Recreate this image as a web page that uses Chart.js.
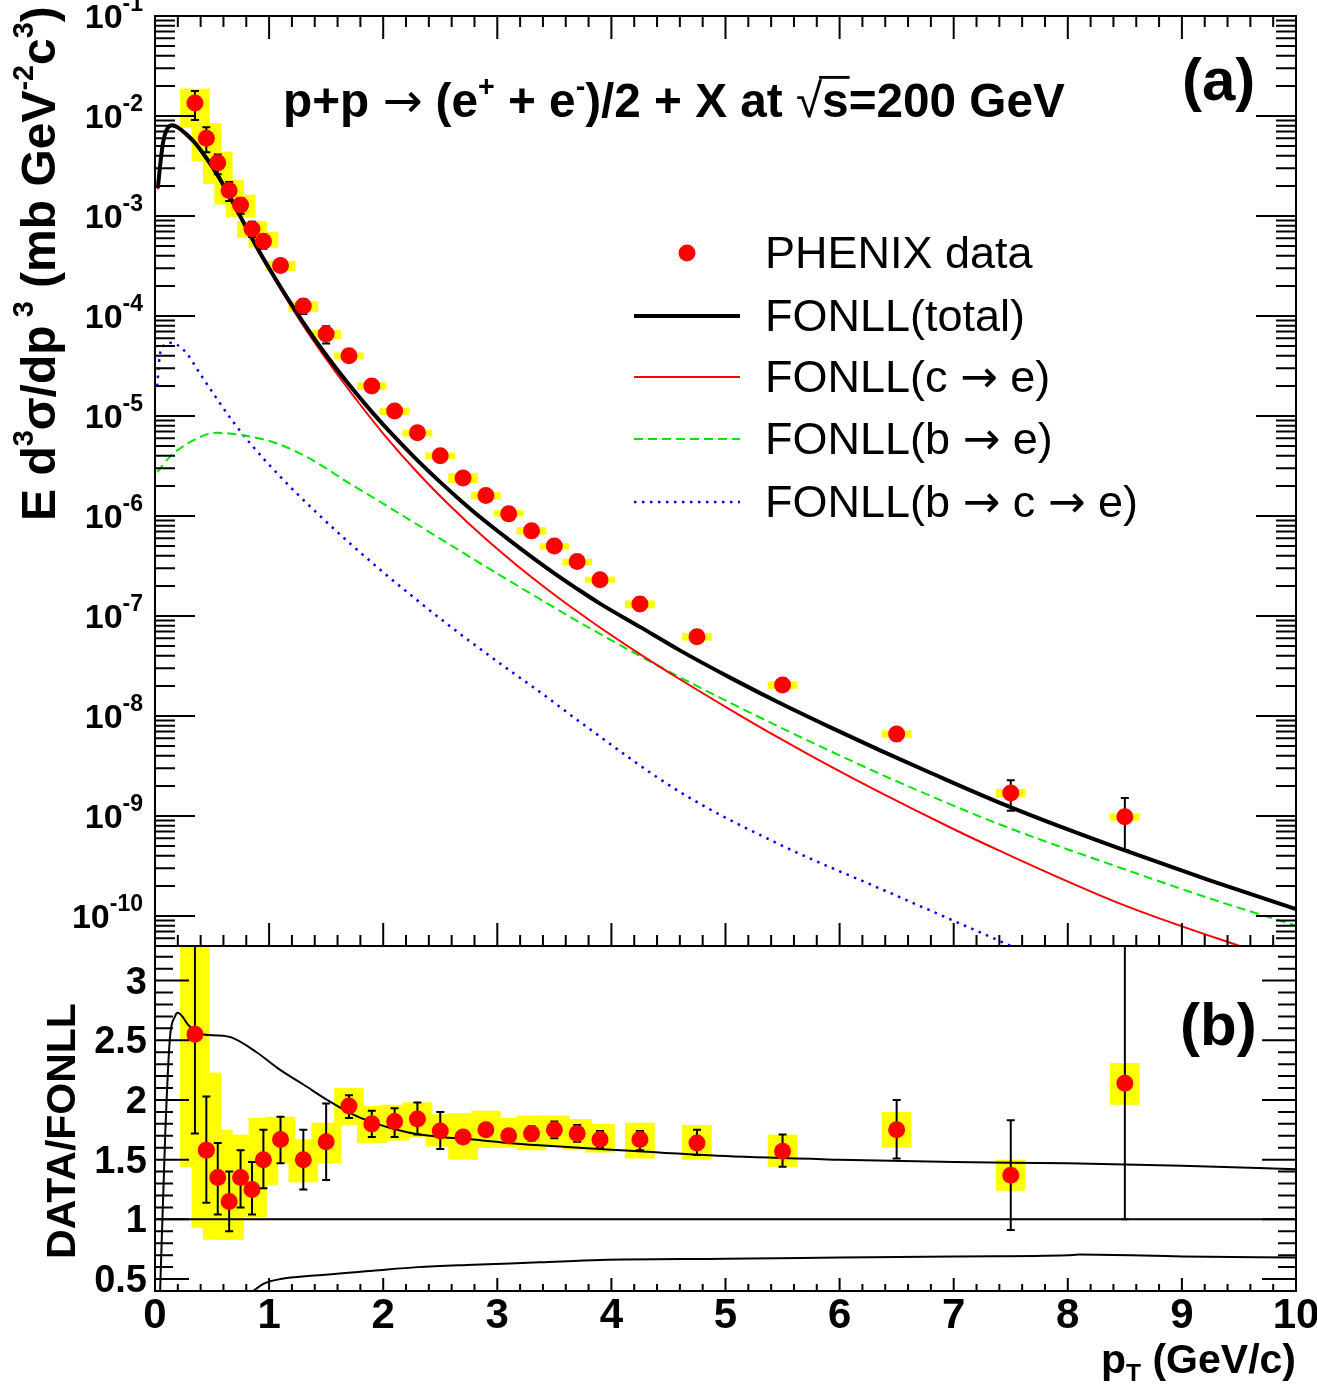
<!DOCTYPE html>
<html>
<head>
<meta charset="utf-8">
<title>p+p -> (e+ + e-)/2 + X, PHENIX vs FONLL</title>
<script src="https://cdn.jsdelivr.net/npm/chart.js"></script>
<style>
  html, body { margin: 0; padding: 0; background: #fff; }
  #wrap { position: relative; width: 1317px; height: 1384px; overflow: hidden; }
  #wrap canvas { position: absolute; left: 0; }
  #spectrum { top: 0; }
  #ratio { top: 930px; }
</style>
</head>
<body>
<div id="wrap">
  <canvas id="spectrum" width="1317" height="960"></canvas>
  <canvas id="ratio" width="1317" height="454"></canvas>
</div>
<script>
// ---- values ----
const ptBins = [0.35, 0.45, 0.55, 0.65, 0.75, 0.85, 0.95, 1.1, 1.3, 1.5, 1.7, 1.9, 2.1, 2.3,
  2.5, 2.7, 2.9, 3.1, 3.3, 3.5, 3.7, 3.9, 4.25, 4.75, 5.5, 6.5, 7.5, 8.5];
const spectrum = [1.35e-2, 6.0e-3, 3.4e-3, 1.8e-3, 1.29e-3, 7.4e-4, 5.6e-4, 3.2e-4, 1.26e-4, 6.6e-5,
  4.0e-5, 2.0e-5, 1.12e-5, 6.8e-6, 4.0e-6, 2.4e-6, 1.6e-6, 1.05e-6, 7.1e-7, 5.0e-7, 3.5e-7, 2.3e-7,
  1.32e-7, 6.2e-8, 2.04e-8, 6.6e-9, 1.7e-9, 9.8e-10];

// data / FONLL with statistical (bars) and systematic (boxes) ranges
const ratio  = [2.55, 1.58, 1.35, 1.15, 1.35, 1.25, 1.50, 1.67, 1.50, 1.65, 1.95, 1.80, 1.82, 1.84,
  1.74, 1.69, 1.75, 1.70, 1.72, 1.75, 1.72, 1.67, 1.67, 1.64, 1.57, 1.75, 1.37, 2.14];
const statLo = [1.72, 1.14, 1.04, 0.90, 1.10, 1.04, 1.26, 1.47, 1.25, 1.33, 1.85, 1.69, 1.69, 1.71,
  1.59, 1.64, 1.70, 1.65, 1.66, 1.68, 1.65, 1.60, 1.58, 1.54, 1.44, 1.51, 0.91, 1.00];
const statHi = [3.35, 2.03, 1.64, 1.40, 1.58, 1.48, 1.75, 1.86, 1.75, 1.97, 2.04, 1.91, 1.93, 1.98,
  1.90, 1.74, 1.80, 1.75, 1.78, 1.82, 1.79, 1.74, 1.74, 1.75, 1.71, 2.00, 1.83, 3.30];
const sysLo  = [1.44, 0.93, 0.83, 0.83, 1.02, 1.02, 1.29, 1.47, 1.31, 1.47, 1.79, 1.64, 1.66, 1.69,
  1.61, 1.50, 1.60, 1.60, 1.58, 1.61, 1.58, 1.56, 1.51, 1.50, 1.44, 1.60, 1.24, 1.96];
const sysHi  = [3.55, 2.23, 1.75, 1.46, 1.71, 1.50, 1.85, 1.86, 1.67, 1.81, 2.10, 1.95, 1.96, 1.98,
  1.88, 1.89, 1.91, 1.85, 1.87, 1.87, 1.84, 1.80, 1.81, 1.79, 1.71, 1.90, 1.50, 2.31];

// FONLL curves
const totPt  = [0.025, 0.045, 0.07, 0.1, 0.15, 0.2, 0.28, 0.35, 0.45, 0.55, 0.65, 0.75, 0.85, 0.95,
  1.1, 1.3, 1.5, 1.7, 1.9, 2.1, 2.3, 2.5, 2.7, 2.9, 3.1, 3.3, 3.5, 3.7, 3.9, 4.25, 4.6, 5.04, 5.48,
  5.92, 6.35, 6.79, 7.4, 8.0, 8.5, 9.25, 10];
const totVal = [1.9e-3, 3.2e-3, 5.4e-3, 7.2e-3, 8.1e-3, 7.7e-3, 6.5e-3, 5.4e-3, 3.8e-3, 2.55e-3,
  1.6e-3, 9.8e-4, 6.0e-4, 3.75e-4, 1.95e-4, 8.6e-5, 4.07e-5, 2.06e-5, 1.10e-5, 6.17e-6, 3.6e-6,
  2.18e-6, 1.36e-6, 8.75e-7, 5.8e-7, 3.9e-7, 2.67e-7, 1.87e-7, 1.33e-7, 7.78e-8, 4.53e-8, 2.42e-8,
  1.34e-8, 7.69e-9, 4.55e-9, 2.72e-9, 1.36e-9, 7.33e-10, 4.52e-10, 2.26e-10, 1.17e-10];

const cePt  = [0.025, 0.045, 0.07, 0.1, 0.15, 0.2, 0.28, 0.35, 0.45, 0.55, 0.65, 0.75, 0.85, 0.95,
  1.1, 1.3, 1.5, 1.7, 2.0, 2.3, 2.59, 2.88, 3.17, 3.46, 3.72, 3.9, 4.25, 4.6, 5.04, 5.48, 5.92,
  6.35, 6.97, 7.4, 8.48, 9.51, 10];
const ceVal = [1.85e-3, 3.1e-3, 5.25e-3, 7.0e-3, 7.9e-3, 7.5e-3, 6.3e-3, 5.25e-3, 3.7e-3, 2.48e-3,
  1.55e-3, 9.5e-4, 5.8e-4, 3.6e-4, 1.86e-4, 8.0e-5, 3.72e-5, 1.82e-5, 6.68e-6, 2.72e-6, 1.25e-6,
  6.15e-7, 3.22e-7, 1.77e-7, 1.07e-7, 7.67e-8, 4.16e-8, 2.33e-8, 1.16e-8, 5.93e-9, 3.13e-9, 1.73e-9,
  7.67e-10, 4.5e-10, 1.30e-10, 5.0e-11, 3.3e-11];

const bePt  = [0.02, 0.13, 0.31, 0.54, 0.74, 1.03, 1.33, 1.71, 2.0, 2.3, 2.59, 2.88, 3.17, 3.46,
  3.72, 3.9, 4.25, 4.6, 5.04, 5.48, 5.92, 6.35, 6.79, 7.4, 8.48, 9.25, 10];
const beVal = [2.75e-6, 3.9e-6, 5.5e-6, 6.8e-6, 6.5e-6, 5.5e-6, 3.9e-6, 2.1e-6, 1.33e-6, 8.18e-7,
  5.13e-7, 3.21e-7, 2.03e-7, 1.29e-7, 8.67e-8, 6.62e-8, 3.98e-8, 2.44e-8, 1.36e-8, 7.69e-9, 4.45e-9,
  2.65e-9, 1.6e-9, 8.26e-10, 2.98e-10, 1.49e-10, 8.0e-11];

const bcePt  = [0.02, 0.04, 0.08, 0.13, 0.2, 0.28, 0.39, 0.54, 0.68, 0.83, 1.12, 1.42, 1.71, 2.0,
  2.3, 2.59, 2.88, 3.17, 3.37, 3.72, 4.6, 5.48, 6.35, 6.97, 7.42, 7.6];
const bceVal = [2.0e-5, 3.9e-5, 5.1e-5, 5.4e-5, 5.1e-5, 4.2e-5, 2.7e-5, 1.5e-5, 8.9e-6, 5.4e-6,
  2.33e-6, 1.07e-6, 5.3e-7, 2.74e-7, 1.43e-7, 7.83e-8, 4.42e-8, 2.54e-8, 1.75e-8, 8.79e-9, 1.74e-9,
  5.15e-10, 1.89e-10, 9.27e-11, 5.52e-11, 4.47e-11];

// FONLL uncertainty band / central, lower panel
const bandUpPt  = [0.045, 0.09, 0.13, 0.175, 0.2, 0.3, 0.41, 0.55, 0.68, 0.89, 1.1, 1.3, 1.51, 1.71,
  1.91, 2.21, 2.5, 2.79, 3.09, 3.37, 3.9, 5, 6, 7, 8, 9, 10];
const bandUpVal = [0.40, 1.72, 2.51, 2.70, 2.73, 2.62, 2.55, 2.54, 2.52, 2.40, 2.25, 2.13, 2.00, 1.89,
  1.81, 1.73, 1.69, 1.67, 1.64, 1.62, 1.59, 1.53, 1.50, 1.48, 1.47, 1.45, 1.42];
const bandLoPt  = [0.86, 0.95, 1.1, 1.4, 1.91, 2.3, 2.79, 3.37, 3.9, 5, 6, 7, 8, 8.1, 9, 10];
const bandLoVal = [0.40, 0.46, 0.50, 0.53, 0.57, 0.60, 0.62, 0.64, 0.66, 0.67, 0.68, 0.69, 0.70,
  0.705, 0.69, 0.68];
const unityPt  = [0, 10];
const unityVal = [1, 1];

// tick labels
const decadeExps = [-1, -2, -3, -4, -5, -6, -7, -8, -9, -10];
const ptTicks = [0, 1, 2, 3, 4, 5, 6, 7, 8, 9, 10];
const ratioTicks = [0.5, 1, 1.5, 2, 2.5, 3];

// top panel error ranges carry the same relative size as in the ratio
const specStatLo = spectrum.map((v, i) => v * statLo[i] / ratio[i]);
const specStatHi = spectrum.map((v, i) => v * statHi[i] / ratio[i]);
const specSysLo = spectrum.map((v, i) => v * sysLo[i] / ratio[i]);
const specSysHi = spectrum.map((v, i) => v * sysHi[i] / ratio[i]);

const FONT = '"Liberation Sans", Arial, Helvetica, sans-serif';
const SYM = '"DejaVu Sans", sans-serif';
const BOX_HALF = 0.13;
const ARROW = { t: '→', w: 'normal', f: SYM };

function xy(xs, ys) {
    return xs.map((x, i) => ({ x: x, y: ys[i] }));
}

function partFont(p, size, weight) {
    const s = p.s || ((p.sup || p.sub) ? size * 0.6 : size);
    return (p.w || weight) + ' ' + s + 'px ' + (p.f || FONT);
}

function partsWidth(ctx, parts, size, weight) {
    let w = 0;
    for (const p of parts) {
        ctx.font = partFont(p, size, weight);
        w += ctx.measureText(p.t).width;
    }
    return w;
}

// draws a run of text pieces with super/subscripts
function drawParts(ctx, parts, x, y, size, weight, align) {
    const w = partsWidth(ctx, parts, size, weight);
    let cx = align === 'right' ? x - w : align === 'center' ? x - w / 2 : x;
    ctx.textAlign = 'left';
    ctx.textBaseline = 'alphabetic';
    for (const p of parts) {
        ctx.font = partFont(p, size, weight);
        let dy = 0;
        if (p.dy !== undefined) dy = p.dy;
        else if (p.sup) dy = -size * 0.45;
        else if (p.sub) dy = size * 0.2;
        const tw = ctx.measureText(p.t).width;
        ctx.fillText(p.t, cx, y + dy);
        if (p.over) {
            ctx.fillRect(cx - 3, y - size * 0.86, tw + 4, Math.max(2, size * 0.06));
        }
        cx += tw;
    }
    return w;
}

function clipArea(chart) {
    const a = chart.chartArea;
    chart.ctx.beginPath();
    chart.ctx.rect(a.left, a.top, a.right - a.left, a.bottom - a.top);
    chart.ctx.clip();
}

function sysBoxes(chart, xs, lo, hi) {
    const { ctx, scales: { x, y } } = chart;
    ctx.save();
    clipArea(chart);
    ctx.fillStyle = '#ffff00';
    xs.forEach((v, i) => {
        const x0 = x.getPixelForValue(v - BOX_HALF);
        const x1 = x.getPixelForValue(v + BOX_HALF);
        const y0 = y.getPixelForValue(hi[i]);
        const y1 = y.getPixelForValue(lo[i]);
        ctx.fillRect(x0, y0, x1 - x0, y1 - y0);
    });
    ctx.restore();
}

function errorBars(chart, xs, lo, hi) {
    const { ctx, scales: { x, y } } = chart;
    ctx.save();
    clipArea(chart);
    ctx.strokeStyle = '#000';
    ctx.lineWidth = 2;
    ctx.beginPath();
    xs.forEach((v, i) => {
        const px = x.getPixelForValue(v);
        const y0 = y.getPixelForValue(hi[i]);
        const y1 = y.getPixelForValue(lo[i]);
        ctx.moveTo(px, y0); ctx.lineTo(px, y1);
        ctx.moveTo(px - 4, y0); ctx.lineTo(px + 4, y0);
        ctx.moveTo(px - 4, y1); ctx.lineTo(px + 4, y1);
    });
    ctx.stroke();
    ctx.restore();
}

function fitSize(ctx, parts, weight, target) {
    return 40 * target / partsWidth(ctx, parts, 40, weight);
}

const legendText = [
    [{ t: 'PHENIX data' }],
    [{ t: 'FONLL(total)' }],
    [{ t: 'FONLL(c ' }, ARROW, { t: ' e)' }],
    [{ t: 'FONLL(b ' }, ARROW, { t: ' e)' }],
    [{ t: 'FONLL(b ' }, ARROW, { t: ' c ' }, ARROW, { t: ' e)' }]
];

const spectrumDeco = {
    id: 'spectrumDeco',
    beforeDatasetsDraw(chart) {
        sysBoxes(chart, ptBins, specSysLo, specSysHi);
    },
    beforeDatasetDraw(chart, args) {
        if (args.index === 0) errorBars(chart, ptBins, specStatLo, specStatHi);
    },
    afterDraw(chart) {
        const { ctx, chartArea: a, scales: { x, y } } = chart;
        ctx.save();
        ctx.strokeStyle = '#000';
        ctx.lineWidth = 2;
        ctx.setLineDash([]);
        ctx.beginPath();
        for (let i = 0; i <= 50; i++) {
            const px = x.getPixelForValue(i / 5);
            const len = i % 5 === 0 ? 23 : 11;
            ctx.moveTo(px, a.top); ctx.lineTo(px, a.top + len);
            ctx.moveTo(px, a.bottom); ctx.lineTo(px, a.bottom - len);
        }
        for (let e = -11; e <= -1; e++) {
            for (let k = 1; k <= 9; k++) {
                const v = k * Math.pow(10, e);
                if (v < y.min * 0.999 || v > y.max * 1.001) continue;
                const py = y.getPixelForValue(v);
                const len = k === 1 ? 40 : 20;
                ctx.moveTo(a.left, py); ctx.lineTo(a.left + len, py);
                ctx.moveTo(a.right, py); ctx.lineTo(a.right - len, py);
            }
        }
        ctx.stroke();
        ctx.strokeRect(a.left, a.top, a.right - a.left, a.bottom - a.top);

        ctx.fillStyle = '#000';
        decadeExps.forEach(e => {
            const py = y.getPixelForValue(Math.pow(10, e));
            drawParts(ctx, [{ t: '10' }, { t: String(e), s: 23, dy: -17 }], 143, py + 12, 34, 'bold', 'right');
        });

        // y title
        const yTitle = [{ t: 'E d' }, { t: '3', sup: true }, { t: 'σ/dp' }, { t: ' 3', sup: true },
            { t: ' (mb GeV' }, { t: '-2', sup: true }, { t: 'c' }, { t: '3', sup: true }, { t: ')' }];
        ctx.save();
        ctx.translate(55, 521);
        ctx.rotate(-Math.PI / 2);
        drawParts(ctx, yTitle, 0, 0, fitSize(ctx, yTitle, 'bold', 515), 'bold', 'left');
        ctx.restore();

        // title
        const title = [{ t: 'p+p ' }, ARROW, { t: ' (e' }, { t: '+', sup: true },
            { t: ' + e' }, { t: '-', sup: true }, { t: ')/2 + X at ' }, { t: '√', w: 'normal' },
            { t: 's', over: true }, { t: '=200 GeV' }];
        drawParts(ctx, title, 283, 117, fitSize(ctx, title, 'bold', 782), 'bold', 'left');

        drawParts(ctx, [{ t: '(a)' }], 1182, 100, 60, 'bold', 'left');

        // legend
        const rows = [253, 316, 377, 439, 502];
        const ds = chart.data.datasets;
        ctx.fillStyle = ds[0].backgroundColor;
        ctx.beginPath();
        ctx.arc(687, rows[0], 8.5, 0, Math.PI * 2);
        ctx.fill();
        for (let i = 1; i <= 4; i++) {
            ctx.strokeStyle = ds[i].borderColor;
            ctx.lineWidth = ds[i].borderWidth;
            ctx.setLineDash(ds[i].borderDash || []);
            ctx.beginPath();
            ctx.moveTo(634, rows[i]);
            ctx.lineTo(740, rows[i]);
            ctx.stroke();
        }
        ctx.setLineDash([]);
        ctx.fillStyle = '#000';
        legendText.forEach((parts, i) => {
            drawParts(ctx, parts, 765, rows[i] + 15, 45, 'normal', 'left');
        });
        ctx.restore();
    }
};

const ratioDeco = {
    id: 'ratioDeco',
    beforeDatasetsDraw(chart) {
        sysBoxes(chart, ptBins, sysLo, sysHi);
    },
    beforeDatasetDraw(chart, args) {
        if (args.index === 0) errorBars(chart, ptBins, statLo, statHi);
    },
    afterDraw(chart) {
        const { ctx, chartArea: a, scales: { x, y } } = chart;
        ctx.save();
        ctx.strokeStyle = '#000';
        ctx.lineWidth = 2;
        ctx.beginPath();
        for (let i = 0; i <= 50; i++) {
            const px = x.getPixelForValue(i / 5);
            const len = i % 5 === 0 ? 13 : 7;
            ctx.moveTo(px, a.bottom); ctx.lineTo(px, a.bottom - len);
        }
        for (let i = 4; i <= 32; i++) {
            const py = y.getPixelForValue(i / 10);
            const len = i % 5 === 0 ? 34 : 18;
            ctx.moveTo(a.left, py); ctx.lineTo(a.left + len, py);
            ctx.moveTo(a.right, py); ctx.lineTo(a.right - len, py);
        }
        ctx.stroke();
        ctx.strokeRect(a.left, a.top, a.right - a.left, a.bottom - a.top);

        ctx.fillStyle = '#000';
        ratioTicks.forEach(v => {
            drawParts(ctx, [{ t: String(v) }], 147, y.getPixelForValue(v) + 13, 38, 'bold', 'right');
        });
        ptTicks.forEach(v => {
            drawParts(ctx, [{ t: String(v) }], x.getPixelForValue(v), 398, 42, 'bold', 'center');
        });
        drawParts(ctx, [{ t: 'p' }, { t: 'T', sub: true }, { t: ' (GeV/c)' }], 1296, 443, 41, 'bold', 'right');
        drawParts(ctx, [{ t: '(b)' }], 1180, 115, 60, 'bold', 'left');

        ctx.save();
        ctx.translate(75, 201);
        ctx.rotate(-Math.PI / 2);
        drawParts(ctx, [{ t: 'DATA/FONLL' }], 0, 0, 41, 'bold', 'center');
        ctx.restore();
        ctx.restore();
    }
};

const curve = {
    showLine: true,
    pointRadius: 0,
    pointHoverRadius: 0,
    fill: false,
    cubicInterpolationMode: 'monotone'
};

new Chart(document.getElementById('spectrum'), {
    type: 'scatter',
    data: {
        datasets: [
            { label: 'PHENIX data', data: xy(ptBins, spectrum), pointRadius: 8.5, pointHoverRadius: 8.5,
              backgroundColor: '#ff0000', borderWidth: 0, order: 0 },
            Object.assign({ label: 'FONLL(total)', data: xy(totPt, totVal), borderColor: '#000000', borderWidth: 4, order: 1 }, curve),
            Object.assign({ label: 'FONLL(c → e)', data: xy(cePt, ceVal), borderColor: '#ff0000', borderWidth: 2, order: 2 }, curve),
            Object.assign({ label: 'FONLL(b → e)', data: xy(bePt, beVal), borderColor: '#00e600', borderWidth: 2,
              borderDash: [9, 5], order: 3 }, curve),
            Object.assign({ label: 'FONLL(b → c → e)', data: xy(bcePt, bceVal), borderColor: '#0000ff', borderWidth: 2.5,
              borderDash: [2.5, 5.5], order: 4 }, curve)
        ]
    },
    options: {
        responsive: false,
        animation: false,
        events: [],
        layout: { padding: { left: 155, right: 21, top: 16, bottom: 14 } },
        scales: {
            x: { type: 'linear', min: 0, max: 10, display: false },
            y: { type: 'logarithmic', min: 5.01e-11, max: 0.1, display: false }
        },
        plugins: { legend: { display: false }, tooltip: { enabled: false } }
    },
    plugins: [spectrumDeco]
});

new Chart(document.getElementById('ratio'), {
    type: 'scatter',
    data: {
        datasets: [
            { label: 'DATA/FONLL', data: xy(ptBins, ratio), pointRadius: 8.5, pointHoverRadius: 8.5,
              backgroundColor: '#ff0000', borderWidth: 0, order: 0 },
            Object.assign({ label: 'upper', data: xy(bandUpPt, bandUpVal), borderColor: '#000', borderWidth: 2, order: 1 }, curve),
            Object.assign({ label: 'lower', data: xy(bandLoPt, bandLoVal), borderColor: '#000', borderWidth: 2, order: 2 }, curve),
            Object.assign({ label: 'unity', data: xy(unityPt, unityVal), borderColor: '#000', borderWidth: 2, order: 3 }, curve)
        ]
    },
    options: {
        responsive: false,
        animation: false,
        events: [],
        layout: { padding: { left: 155, right: 21, top: 16, bottom: 93 } },
        scales: {
            x: { type: 'linear', min: 0, max: 10, display: false },
            y: { type: 'linear', min: 0.4, max: 3.29, display: false }
        },
        plugins: { legend: { display: false }, tooltip: { enabled: false } }
    },
    plugins: [ratioDeco]
});
</script>
</body>
</html>
